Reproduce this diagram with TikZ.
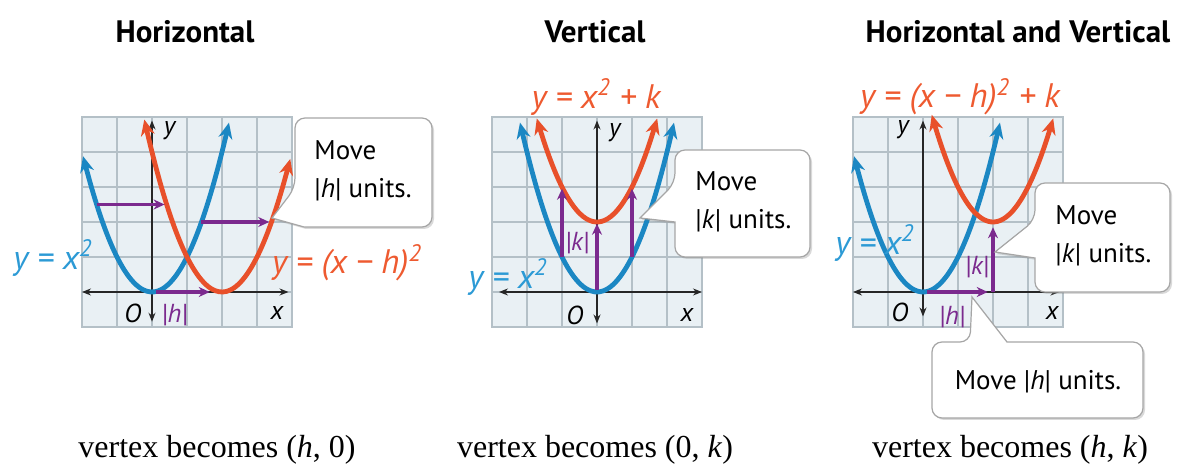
\documentclass[tikz,border=0pt]{standalone}
\usepackage{fontspec}
\setmainfont{Liberation Serif}
\setsansfont{PT Sans}
\usetikzlibrary{arrows.meta,shadows}
\definecolor{pblue}{HTML}{1B87C3}
\definecolor{lblue}{HTML}{2C9AD5}
\definecolor{pred}{HTML}{E8502A}
\definecolor{lred}{HTML}{EE5A30}
\definecolor{purp}{HTML}{7B2A8E}
\definecolor{cell}{HTML}{E9F0F4}
\definecolor{line}{HTML}{B4C0C7}
\definecolor{edge}{HTML}{A6A6A6}

\begin{document}
\begin{tikzpicture}[x=1pt,y=1pt,
plotgrid/.style={draw=line,line width=0.7pt,fill=cell},
axisline/.style={{Stealth[length=4.5pt,width=3.5pt]}-{Stealth[length=4.5pt,width=3.5pt]},black!85,line width=0.7pt},
bluepar/.style={{Stealth[length=8pt,width=7pt]}-{Stealth[length=8pt,width=7pt]},pblue,line width=2.4pt,smooth,samples=40},
redpar/.style={{Stealth[length=8pt,width=7pt]}-{Stealth[length=8pt,width=7pt]},pred,line width=2.4pt,smooth,samples=40},
shiftarr/.style={-{Stealth[length=5.5pt,width=5pt]},purp,line width=1.9pt},
callout/.style={draw=edge,fill=white,line width=0.6pt,drop shadow={shadow xshift=1pt,shadow yshift=-1pt,opacity=0.3}},
eqn/.style={font=\fontsize{17}{20}\sffamily\itshape,inner sep=0pt},
axlbl/.style={font=\fontsize{13}{15}\sffamily\itshape,inner sep=0pt},
paneltitle/.style={font=\fontsize{15.5}{18}\sffamily\bfseries},
vtxtext/.style={font=\fontsize{16}{18}\selectfont},
calltext/.style={font=\fontsize{13.5}{19}\sffamily,align=left,inner sep=0pt}]
\useasboundingbox (0,0) rectangle (590,233);

\node[paneltitle] (tA) at (92.5,217) {Horizontal};
\node[paneltitle] (tB) at (297.5,217) {Vertical};
\node[paneltitle] (tC) at (509,217) {Horizontal and Vertical};

\begin{scope}[shift={(76,87)},x=17.5pt,y=17.5pt]
\draw[plotgrid,step={(1,1)}] (-2,-1) grid (4,5) (-2,-1) rectangle (4,5);
\draw[axisline] (-2,0) -- (3.9,0);
\draw[axisline] (0,-0.85) -- (0,4.9);
\draw[bluepar] plot[domain=-1.97:2.2] (\x,{\x*\x});
\draw[redpar] plot[domain=-0.22:3.95] (\x,{(\x-2)^2});
\draw[shiftarr] (-1.58,2.5) -- (0.36,2.5);
\draw[shiftarr] (1.41,2) -- (3.35,2);
\draw[shiftarr] (0.1,0) -- (1.65,0);
\node[axlbl] (yA) at (0.5,4.6) {y};
\node[axlbl] (xA) at (3.57,-0.6) {x};
\node[axlbl] (oA) at (-0.55,-0.6) {O};
\node[axlbl,text=purp] (hA) at (0.64,-0.66) {|h|};
\end{scope}

\begin{scope}[shift={(298.5,87)},x=17.5pt,y=17.5pt]
\draw[plotgrid,step={(1,1)}] (-3,-1) grid (3,5) (-3,-1) rectangle (3,5);
\draw[axisline] (-2.8,0) -- (3,0);
\draw[axisline] (0,-0.9) -- (0,4.9);
\draw[bluepar] plot[domain=-2.2:2.2] (\x,{\x*\x});
\draw[redpar] plot[domain=-1.72:1.72] (\x,{\x*\x+2});
\draw[shiftarr] (-1,1) -- (-1,2.95);
\draw[shiftarr] (0,0.05) -- (0,1.95);
\draw[shiftarr] (1,1) -- (1,2.95);
\node[axlbl] (yB) at (0.51,4.54) {y};
\node[axlbl] (xB) at (2.57,-0.66) {x};
\node[axlbl] (oB) at (-0.63,-0.66) {O};
\node[axlbl,text=purp] (kB) at (-0.57,1.4) {|k|};
\end{scope}

\begin{scope}[shift={(461.5,87)},x=17.5pt,y=17.5pt]
\draw[plotgrid,step={(1,1)}] (-2,-1) grid (4,5) (-2,-1) rectangle (4,5);
\draw[axisline] (-2,0) -- (3.9,0);
\draw[axisline] (0,-0.7) -- (0,4.9);
\draw[bluepar] plot[domain=-1.97:2.2] (\x,{\x*\x});
\draw[redpar] plot[domain=0.25:3.72] (\x,{(\x-2)^2+2});
\draw[shiftarr] (0.1,0) -- (1.85,0);
\draw[shiftarr] (2,0) -- (2,1.85);
\node[axlbl] (yC) at (-0.57,4.63) {y};
\node[axlbl] (xC) at (3.69,-0.6) {x};
\node[axlbl] (oC) at (-0.66,-0.57) {O};
\node[axlbl,text=purp] (hC) at (0.83,-0.71) {|h|};
\node[axlbl,text=purp] (kC) at (1.54,0.71) {|k|};
\end{scope}

\node[eqn,text=lblue] (eA) at (26.5,104) {y = x\textsuperscript{2}};
\node[eqn,text=lred] (fA) at (173.5,101.5) {y = (x − h)\textsuperscript{2}};
\node[eqn,text=lred] (fB) at (298,184.5) {y = x\textsuperscript{2} + k};
\node[eqn,text=lblue] (eB) at (254,94.5) {y = x\textsuperscript{2}};
\node[eqn,text=lred] (fC) at (480,184.5) {y = (x − h)\textsuperscript{2} + k};
\node[eqn,text=lblue] (eC) at (437.5,111.5) {y = x\textsuperscript{2}};

\draw[callout] (152,119.5) [rounded corners=5pt] -- (216,119.5) -- (216,174) -- (147.5,174) -- (147.5,139) [sharp corners] -- (136,124) -- cycle;
\draw[callout] (337.5,122) [rounded corners=5pt] -- (337.5,104.5) -- (405,104.5) -- (405,158) -- (337.5,158) -- (337.5,141.5) [sharp corners] -- (320,124) -- cycle;
\draw[callout] (517.5,104) [rounded corners=5pt] -- (517.5,87) -- (585,87) -- (585,141.5) -- (517.5,141.5) -- (517.5,123) [sharp corners] -- (497.5,107) -- cycle;
\draw[callout] (503.5,62) [rounded corners=5pt] -- (571.5,62) -- (571.5,24) -- (466,24) -- (466,62) -- (485,62) [sharp corners] -- (486,84.5) -- cycle;
\node[calltext,anchor=west] (mA) at (157,147.5) {Move\\|\textit{h}| units.};
\node[calltext,anchor=west] (mB) at (347.5,132.25) {Move\\|\textit{k}| units.};
\node[calltext,anchor=west] (mC) at (527.5,115) {Move\\|\textit{k}| units.};
\node[calltext] (mD) at (519,42) {Move |\textit{h}| units.};

\node[vtxtext] (vA) at (108.5,8) {vertex becomes (\textit{h}, 0)};
\node[vtxtext] (vB) at (297.5,8) {vertex becomes (0, \textit{k})};
\node[vtxtext] (vC) at (505,8) {vertex becomes (\textit{h}, \textit{k})};
\end{tikzpicture}
\end{document}
